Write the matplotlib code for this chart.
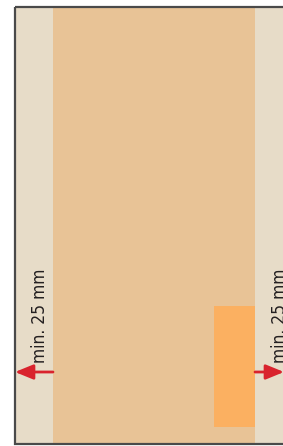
import matplotlib.pyplot as plt
from matplotlib.patches import Rectangle

# page layout in pixel units (x from left, y from top)
page = (15, 7, 300, 437)          # x, y, w, h of the sheet outline
margins = [(15, 7, 38, 437), (255, 7, 40, 437)]   # light margin strips
body = (53, 7, 202, 437)          # main orange area
box = (214, 306, 41, 121)         # bright orange block
labels = ['min. 25 mm', 'min. 25 mm']
label_x = [40, 280]
label_y = 316
arrow_y = 372

fig = plt.figure(figsize=(2.83, 4.46), dpi=100)
ax = fig.add_axes([0, 0, 1, 1])
ax.set_xlim(0, 283)
ax.set_ylim(446, 0)
ax.axis('off')

for x, y, w, h in margins:
    ax.add_patch(Rectangle((x, y), w, h, facecolor='#e7dcc8', edgecolor='none'))
ax.add_patch(Rectangle(body[:2], body[2], body[3], facecolor='#e8c396', edgecolor='none'))
ax.add_patch(Rectangle(box[:2], box[2], box[3], facecolor='#fbb061', edgecolor='none'))
ax.add_patch(Rectangle(page[:2], page[2], page[3], facecolor='none',
                       edgecolor='#4a4a4a', linewidth=1.6))

for lx, txt in zip(label_x, labels):
    ax.text(lx, label_y, txt, rotation=90, ha='center', va='center',
            fontsize=12.5, color='#231f20', fontstretch='condensed', clip_on=True)

style = '-|>,head_length=1.1,head_width=0.45'
ax.annotate('', xy=(15, arrow_y), xytext=(53, arrow_y), annotation_clip=False,
            arrowprops=dict(arrowstyle=style, color='#d9232d', lw=2, shrinkA=0, shrinkB=0))
ax.annotate('', xy=(284, arrow_y), xytext=(255, arrow_y), annotation_clip=False,
            arrowprops=dict(arrowstyle=style, color='#d9232d', lw=2, shrinkA=0, shrinkB=0))

plt.savefig('out.png', dpi=100)
